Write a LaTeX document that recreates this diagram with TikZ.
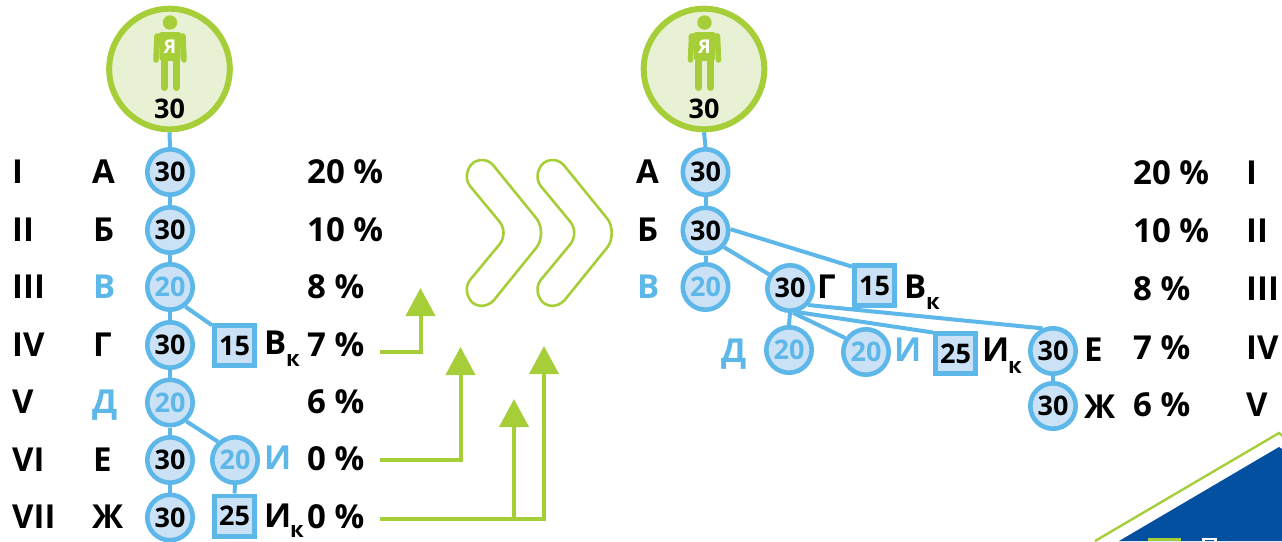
\documentclass[tikz,border=0pt]{standalone}
\usepackage{fontspec}
\setmainfont{Open Sans}
\usetikzlibrary{arrows.meta}
\definecolor{gr}{HTML}{A5CE39}
\definecolor{grl}{HTML}{E8F1D3}
\definecolor{bl}{HTML}{5DB7E8}
\definecolor{bll}{HTML}{CBE2F6}
\definecolor{navy}{HTML}{0450A0}
\tikzset{
  x=1pt,y=-1pt,
  big/.style={circle,draw=gr,fill=grl,line width=6pt,minimum size=120.6pt,inner sep=0pt},
  kr/.style={circle,draw=bl,fill=bll,line width=4.6pt,minimum size=45.4pt,inner sep=0pt,font=\bfseries\fontsize{27}{27}\selectfont},
  sq/.style={rectangle,draw=bl,fill=bll,line width=4.6pt,minimum size=40.4pt,inner sep=0pt,font=\bfseries\fontsize{27}{27}\selectfont},
  lbl/.style={anchor=base west,inner sep=0pt,font=\bfseries\fontsize{33}{33}\selectfont},
  sub/.style={anchor=base west,inner sep=0pt,font=\bfseries\fontsize{22}{22}\selectfont},
  bt/.style={text=bl},
  cn/.style={draw=bl,line width=4pt},
  gl/.style={draw=gr,line width=4pt,-{Triangle[length=28pt,width=29pt]}},
  chev/.style={draw=gr,line width=2.6pt,line join=round},
}
\newcommand{\person}[2]{%
  \begin{scope}[shift={(#1,#2)}]
    \fill[gr] (0,-46.5) circle (7.2);
    \fill[gr,rounded corners=3pt] (-11,-37) -- (11,-37) -- (10.5,-8) -- (-10.5,-8) -- cycle;
    \draw[gr,line width=5.5pt,line cap=round,line join=round] (-13,-33) -- (-14,-9);
    \draw[gr,line width=5.5pt,line cap=round,line join=round] (13,-33) -- (14,-9);
    \draw[gr,line width=7pt,line cap=round] (-6,-12) -- (-6,18.5);
    \draw[gr,line width=7pt,line cap=round] (6,-12) -- (6,18.5);
    \fill[gr,rounded corners=4pt] (-13,-36.5) -- (13,-36.5) -- (13,-28) -- (-13,-28) -- cycle;
    \node[inner sep=0pt,text=white,font=\bfseries\fontsize{19}{19}\selectfont] at (0,-22) {Я};
  \end{scope}}
\newcommand{\chevron}[1]{%
  \begin{scope}[shift={(#1,0)}]
    \draw[chev] (493,165) -- (536.5,218.5) .. controls (542.5,226) and (542.5,240) .. (536.5,247.5)
      -- (494,300) .. controls (486,309) and (473,307) .. (469,298)
      .. controls (465,290) and (467,284) .. (470,280)
      -- (499,245) .. controls (505,238) and (505,228) .. (499,221)
      -- (470,186) .. controls (467,182) and (465,176) .. (469,168)
      .. controls (473,159) and (486,157) .. (493,165) -- cycle;
  \end{scope}}
\begin{document}
\begin{tikzpicture}
\useasboundingbox (0,0) rectangle (1282,541);
% ---- bottom-right corner panel
\begin{scope}
  \clip (0,0) rectangle (1282,541);
  \fill[navy] (1119,541) -- (1279,447) -- (1282,449) -- (1282,541) -- cycle;
  \draw[gr,line width=2.4pt] (1095,541) -- (1279,433) -- (1284,437);
  \fill[gr] (1148,537.5) rectangle (1181,541);
  \fill[white] (1202,537.5) rectangle (1217,541);
  \fill[navy] (1205,539.5) rectangle (1214,541);
\end{scope}
% ---- left tree
\node[big] (ya1) at (169.5,69) {};
\person{170}{69}
\node[inner sep=0pt,font=\bfseries\fontsize{27}{27}\selectfont] (ya1t) at (169.5,109) {30};
\node[kr] (a) at (170,172) {30};
\node[kr] (b) at (170,230) {30};
\node[kr,bt] (v) at (170,287) {20};
\node[kr] (g) at (170,345) {30};
\node[kr,bt] (d) at (170,402.5) {20};
\node[kr] (e) at (170,460) {30};
\node[kr] (zh) at (170,517.5) {30};
\node[kr,bt] (i) at (235,460) {20};
\node[sq] (vk) at (234.5,345.5) {15};
\node[sq] (ik) at (234.5,516) {25};
\draw[cn] (ya1.south) -- (a.north);
\draw[cn] (a) -- (b);
\draw[cn] (b) -- (v);
\draw[cn] (v) -- (g);
\draw[cn] (g) -- (d);
\draw[cn] (d) -- (e);
\draw[cn] (e) -- (zh);
\draw[cn] (v.-52) -- (vk.138);
\draw[cn] (d.-49) -- (i.133);
\draw[cn] (i.south) -- (ik.north);
% roman numerals, left
\node[lbl] (r1) at (12,183) {I};
\node[lbl] (r2) at (12,241) {II};
\node[lbl] (r3) at (12,298) {III};
\node[lbl] (r4) at (12,356) {IV};
\node[lbl] (r5) at (12,413) {V};
\node[lbl] (r6) at (12,471) {VI};
\node[lbl] (r7) at (12,528) {VII};
% letters, left
\node[lbl] (la) at (92,183) {А};
\node[lbl] (lb) at (93,241) {Б};
\node[lbl,bt] (lv) at (93,298) {В};
\node[lbl] (lg) at (93,356) {Г};
\node[lbl,bt] (ld) at (92,413) {Д};
\node[lbl] (le) at (93,471) {Е};
\node[lbl] (lzh) at (92,528) {Ж};
\node[lbl] (lvk) at (264,354) {В};
\node[sub] (lvks) at (286,366) {к};
\node[lbl,bt] (li) at (264,469) {И};
\node[lbl] (lik) at (264,527) {И};
\node[sub] (liks) at (290,537) {к};
% percents, left
\node[lbl] (p1) at (307,183) {20 \%};
\node[lbl] (p2) at (307,241) {10 \%};
\node[lbl] (p3) at (307,298) {8 \%};
\node[lbl] (p4) at (307,356) {7 \%};
\node[lbl] (p5) at (307,413) {6 \%};
\node[lbl] (p6) at (307,470) {0 \%};
\node[lbl] (p7) at (307,528) {0 \%};
% ---- green arrows
\coordinate (s1) at (380,352);
\coordinate (s2) at (380,460);
\coordinate (s3) at (380,519);
\coordinate (t1) at (420.5,288);
\coordinate (t2) at (460.5,347);
\coordinate (t3) at (544,346);
\coordinate (t4) at (514,399);
\draw[gl] (s1) -| (t1);
\draw[gl] (s2) -| (t2);
\draw[gl] (s3) -| (t3);
\draw[gl] (s3) -| (t4);
% ---- chevrons
\chevron{0}
\chevron{70.7}
% ---- right tree
\node[big] (ya2) at (704,69) {};
\person{704.5}{69}
\node[inner sep=0pt,font=\bfseries\fontsize{27}{27}\selectfont] (ya2t) at (704,109) {30};
\node[kr] (a2) at (705.5,172) {30};
\node[kr] (b2) at (705.5,230.5) {30};
\node[kr,bt] (v2) at (705.5,287) {20};
\node[kr] (g2) at (790,288) {30};
\node[sq] (vk2) at (874.5,285.5) {15};
\node[kr,bt] (d2) at (789,350) {20};
\node[kr,bt] (i2) at (866,352) {20};
\node[sq] (ik2) at (955.5,353.5) {25};
\node[kr] (e2) at (1053,351) {30};
\node[kr] (zh2) at (1053,406) {30};
\draw[cn] (ya2.south) -- (a2.north);
\draw[cn] (a2) -- (b2);
\draw[cn] (b2) -- (v2);
\draw[cn] (b2.-42) -- (g2.147);
\draw[cn] (b2.3) -- (vk2.140);
\draw[cn] (g2.-90) -- (d2.north);
\draw[cn] (g2.-83) -- (i2.146);
\draw[cn] (g2.-74) -- (ik2.137);
\draw[cn] (g2.-43) -- (e2.115);
\draw[cn] (e2) -- (zh2);
\node[lbl] (ra) at (636,183) {А};
\node[lbl] (rb) at (637,241) {Б};
\node[lbl,bt] (rv) at (637,298) {В};
\node[lbl] (rg) at (817,298) {Г};
\node[lbl] (rvk) at (904,298) {В};
\node[sub] (rvks) at (926,309) {к};
\node[lbl,bt] (rd) at (721,362) {Д};
\node[lbl,bt] (ri) at (894,361.5) {И};
\node[lbl] (rik) at (982,361.5) {И};
\node[sub] (riks) at (1008,373) {к};
\node[lbl] (re) at (1084,361.5) {Е};
\node[lbl] (rzh) at (1084,418) {Ж};
\node[lbl] (q1) at (1133,184) {20 \%};
\node[lbl] (q2) at (1133,242.5) {10 \%};
\node[lbl] (q3) at (1133,300.5) {8 \%};
\node[lbl] (q4) at (1133,359) {7 \%};
\node[lbl] (q5) at (1133,416.5) {6 \%};
\node[lbl] (n1) at (1246,184) {I};
\node[lbl] (n2) at (1246,242.5) {II};
\node[lbl] (n3) at (1246,300.5) {III};
\node[lbl] (n4) at (1246,359) {IV};
\node[lbl] (n5) at (1246,416.5) {V};
\end{tikzpicture}
\end{document}
